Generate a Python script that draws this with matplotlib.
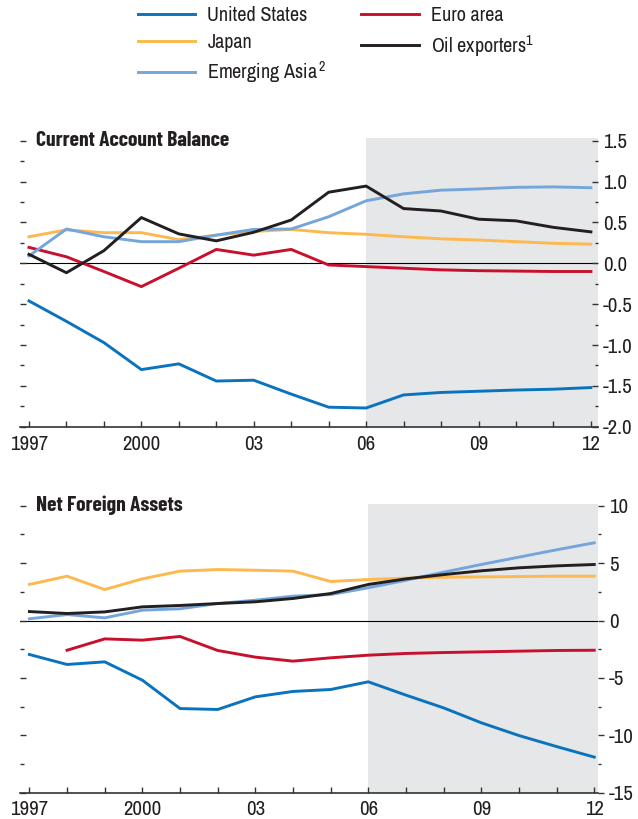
import numpy as np
import matplotlib
matplotlib.use("Agg")
import matplotlib.pyplot as plt
from matplotlib.ticker import MultipleLocator, FixedLocator

plt.rcParams['font.family'] = ['Archivo Narrow', 'DejaVu Sans']
plt.rcParams['mathtext.fontset'] = 'custom'
plt.rcParams['mathtext.rm'] = 'Archivo Narrow'
plt.rcParams['axes.unicode_minus'] = False

# Data
years = list(range(1997, 2013))
year_labels = ['1997', '', '', '2000', '', '', '03', '', '', '06', '', '', '09', '', '', '12']

# Current account balance (percent of world GDP)
ca_us = [-0.46, -0.71, -0.97, -1.30, -1.23, -1.44, -1.43, -1.60, -1.76, -1.77,
         -1.61, -1.58, -1.565, -1.55, -1.54, -1.52]
ca_euro = [0.195, 0.08, -0.10, -0.285, -0.06, 0.17, 0.10, 0.17, -0.02, -0.04,
           -0.06, -0.08, -0.09, -0.095, -0.10, -0.10]
ca_japan = [0.325, 0.41, 0.375, 0.375, 0.29, 0.345, 0.39, 0.415, 0.375, 0.355,
            0.325, 0.30, 0.285, 0.265, 0.245, 0.235]
ca_asia = [0.09, 0.42, 0.325, 0.265, 0.265, 0.345, 0.415, 0.42, 0.57, 0.765,
           0.85, 0.895, 0.91, 0.93, 0.935, 0.925]
ca_oil = [0.11, -0.115, 0.155, 0.56, 0.36, 0.275, 0.38, 0.53, 0.87, 0.945,
          0.67, 0.64, 0.54, 0.52, 0.44, 0.385]

# Net foreign assets (percent of world GDP)
nfa_us = [-2.96, -3.83, -3.60, -5.20, -7.67, -7.75, -6.65, -6.18, -6.01, -5.34,
          -6.50, -7.61, -8.91, -10.02, -10.98, -11.9]
nfa_euro = [np.nan, -2.59, -1.60, -1.71, -1.39, -2.61, -3.19, -3.54, -3.25, -3.02,
            -2.87, -2.79, -2.73, -2.67, -2.61, -2.59]
nfa_japan = [3.14, 3.86, 2.70, 3.63, 4.30, 4.44, 4.38, 4.30, 3.40, 3.57,
             3.69, 3.77, 3.80, 3.83, 3.86, 3.86]
nfa_asia = [0.15, 0.52, 0.23, 0.90, 1.02, 1.48, 1.77, 2.12, 2.26, 2.85,
            3.51, 4.21, 4.88, 5.52, 6.16, 6.77]
nfa_oil = [0.78, 0.61, 0.75, 1.19, 1.31, 1.48, 1.63, 1.92, 2.35, 3.14,
           3.63, 4.00, 4.33, 4.59, 4.76, 4.88]

c_us = '#0a73bd'
c_euro = '#c8102e'
c_japan = '#fdb94e'
c_asia = '#74a6db'
c_oil = '#231f20'
shade = '#e6e7e8'
txt = '#231f20'

W, H = 638, 819
fig = plt.figure(figsize=(W / 100, H / 100), dpi=100)


def px_axes(l, r, t, b):
    return fig.add_axes([l / W, 1 - b / H, (r - l) / W, (b - t) / H])


def draw_panel(ax, us, euro, japan, asia, oil, ylim, xlim, major, minor,
               fmt, title, ticks_out, label_pad):
    ax.set_xlim(*xlim)
    ax.set_ylim(*ylim)
    ax.axvspan(2006, xlim[1], color=shade, lw=0, zorder=0)
    ax.axhline(0, color='black', lw=0.8, zorder=1)
    lw = 2.1
    ax.plot(years, us, color=c_us, lw=lw, zorder=3)
    ax.plot(years, euro, color=c_euro, lw=lw, zorder=3)
    ax.plot(years, japan, color=c_japan, lw=lw, zorder=3)
    ax.plot(years, asia, color=c_asia, lw=lw, zorder=3)
    ax.plot(years, oil, color=c_oil, lw=lw, zorder=4)

    for s in ['top', 'left', 'right']:
        ax.spines[s].set_visible(False)
    ax.spines['bottom'].set_color('#333333')
    ax.spines['bottom'].set_linewidth(1.2)

    ax.set_xticks(years)
    ax.set_xticklabels(year_labels)
    ax.tick_params(axis='x', direction='in', length=4.5, width=1,
                   color='#333333', labelsize=15, pad=label_pad,
                   labelcolor=txt)

    # left side: small ticks only
    ax.yaxis.set_major_locator(MultipleLocator(major))
    ax.yaxis.set_minor_locator(MultipleLocator(minor))
    ax.tick_params(axis='y', which='major', direction='in', length=4.5,
                   width=1, labelleft=False, color='#333333')
    ax.tick_params(axis='y', which='minor', direction='in', length=2.8,
                   width=1, color='#333333')

    # right side: labelled axis
    axr = ax.twinx()
    axr.set_ylim(*ylim)
    for s in ['top', 'left', 'right', 'bottom']:
        axr.spines[s].set_visible(False)
    ticks = np.arange(np.ceil(ylim[0] / major) * major, ylim[1] + 1e-9, major)
    axr.yaxis.set_major_locator(FixedLocator(ticks))
    axr.yaxis.set_minor_locator(MultipleLocator(minor))
    axr.set_yticklabels([fmt.format(t) for t in ticks])
    d = 'out' if ticks_out else 'in'
    axr.tick_params(axis='y', which='major', direction=d, length=4.5, width=1,
                    labelsize=15, pad=3.5, color='#333333', labelcolor=txt)
    axr.tick_params(axis='y', which='minor', direction=d, length=2.5, width=1,
                    color='#333333')

    ax.text((36 - 20) / 578, major * np.floor(ylim[1] / major), title,
            transform=ax.get_yaxis_transform(), ha='left', va='center',
            fontsize=15.5, fontweight='bold', color=txt, zorder=5,
            family=['Barlow Condensed', 'DejaVu Sans'])


ax1 = px_axes(20, 598, 137.7, 426.8)
draw_panel(ax1, ca_us, ca_euro, ca_japan, ca_asia, ca_oil,
           (-2.0, 1.537), (1996.76, 2012.19), 0.5, 0.25, '{:.1f}',
           'Current Account Balance', False, 6)

ax2 = px_axes(20, 598, 504, 792.7)
draw_panel(ax2, nfa_us, nfa_euro, nfa_japan, nfa_asia, nfa_oil,
           (-15, 10.15), (1996.75, 2012.1), 5, 2.5, '{:.0f}',
           'Net Foreign Assets', True, 5)

# Legend
handles = [plt.Line2D([], [], color=c, lw=2.1)
           for c in [c_us, c_japan, c_asia, c_euro, c_oil]]
labels = ['United States', 'Japan', 'Emerging Asia$^{\\,2}$', 'Euro area',
          'Oil exporters$^{1}$']
fig.legend(handles, labels, loc='upper left',
           bbox_to_anchor=(138 / W, 1 - 6 / H), ncol=2, frameon=False,
           fontsize=14.5, handlelength=2.85, handletextpad=0.6,
           columnspacing=1.7, labelspacing=0.38, borderpad=0,
           borderaxespad=0, labelcolor=txt)

fig.savefig('out.png', dpi=100)
